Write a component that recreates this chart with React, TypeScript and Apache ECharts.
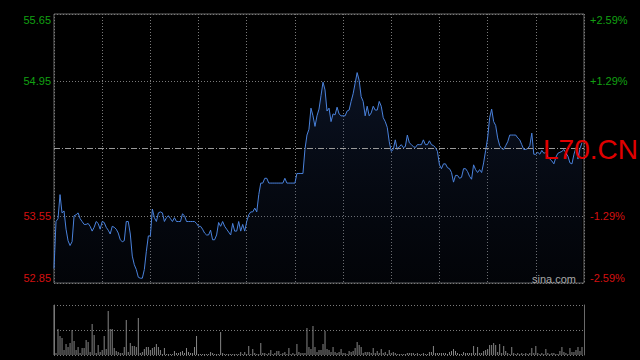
import React, { useEffect, useRef } from "react";
import * as echarts from "echarts";

// ---- data ----
const PREV_CLOSE = 54.25;
const AXIS_MIN = 52.85;
const AXIS_MAX = 55.65;
const AXIS_STEP = 0.7;
const LEFT_LABELS = ["52.85", "53.55", "", "54.95", "55.65"];
const RIGHT_LABELS = ["-2.59%", "-1.29%", "", "+1.29%", "+2.59%"];
const SLOTS = 264; // minute slots across the day
const SLOT_STEP = 24; // vertical grid every 24 slots

const PRICES = [
  53.00, 53.49, 53.52, 53.77, 53.58, 53.60, 53.41, 53.29, 53.24, 53.28, 53.55, 53.56,
  53.58, 53.52, 53.49, 53.46, 53.46, 53.47, 53.44, 53.39, 53.43, 53.49, 53.47, 53.41,
  53.49, 53.48, 53.43, 53.40, 53.36, 53.44, 53.43, 53.41, 53.37, 53.30, 53.28, 53.29,
  53.49, 53.49, 53.36, 53.13, 53.04, 52.99, 52.91, 52.90, 52.90, 52.99, 53.18, 53.34,
  53.34, 53.62, 53.53, 53.49, 53.58, 53.59, 53.58, 53.49, 53.53, 53.55, 53.52, 53.49,
  53.53, 53.49, 53.49, 53.49, 53.57, 53.55, 53.49, 53.49, 53.49, 53.49, 53.49, 53.47,
  53.44, 53.44, 53.41, 53.37, 53.35, 53.35, 53.40, 53.30, 53.30, 53.35, 53.48, 53.44,
  53.49, 53.44, 53.41, 53.38, 53.35, 53.47, 53.39, 53.39, 53.49, 53.39, 53.46, 53.39,
  53.49, 53.56, 53.59, 53.59, 53.63, 53.59, 53.77, 53.89, 53.89, 53.94, 53.94, 53.89,
  53.89, 53.89, 53.89, 53.89, 53.89, 53.89, 53.89, 53.94, 53.89, 53.89, 53.89, 53.89,
  53.89, 53.99, 53.99, 53.99, 53.99, 54.24, 54.39, 54.45, 54.67, 54.59, 54.48, 54.59,
  54.66, 54.80, 54.94, 54.86, 54.64, 54.67, 54.53, 54.61, 54.60, 54.68, 54.61, 54.59,
  54.59, 54.59, 54.64, 54.65, 54.74, 54.82, 54.93, 55.04, 54.96, 54.79, 54.74, 54.59,
  54.69, 54.59, 54.62, 54.69, 54.65, 54.65, 54.74, 54.69, 54.57, 54.53, 54.47, 54.32,
  54.22, 54.24, 54.34, 54.24, 54.27, 54.29, 54.26, 54.27, 54.39, 54.31, 54.29, 54.27,
  54.26, 54.29, 54.29, 54.29, 54.34, 54.29, 54.29, 54.33, 54.29, 54.28, 54.26, 54.22,
  54.08, 54.04, 54.09, 54.09, 54.05, 54.04, 54.00, 53.90, 53.97, 53.97, 53.94, 53.95,
  54.04, 54.04, 54.01, 53.96, 53.93, 54.08, 54.03, 54.00, 54.03, 54.00, 54.10, 54.23,
  54.36, 54.57, 54.66, 54.53, 54.49, 54.36, 54.28, 54.25, 54.24, 54.28, 54.32, 54.39,
  54.39, 54.39, 54.39, 54.36, 54.34, 54.29, 54.24, 54.24, 54.25, 54.28, 54.41, 54.19,
  54.19, 54.21, 54.19, 54.23, 54.20, 54.21, 54.16, 54.14, 54.12, 54.09, 54.16, 54.20,
  54.21, 54.22, 54.24, 54.20, 54.17, 54.10, 54.09, 54.19, 54.26, 54.14, 54.25, 54.31,
];

const VOLUMES = [
  50, 2, 26, 19, 17, 5, 11, 8, 12, 25, 14, 5,
  8, 2, 7, 7, 15, 13, 3, 31, 20, 2, 10, 3,
  5, 19, 6, 44, 26, 26, 7, 4, 3, 2, 2, 8,
  35, 3, 12, 9, 9, 8, 37, 2, 3, 6, 8, 8,
  5, 7, 8, 11, 8, 5, 1, 7, 1, 1, 1, 1,
  4, 2, 2, 3, 4, 2, 7, 3, 2, 2, 8, 19,
  1, 1, 1, 1, 1, 1, 3, 2, 1, 1, 1, 23,
  2, 1, 1, 1, 1, 1, 1, 1, 1, 3, 1, 3,
  1, 9, 1, 6, 2, 1, 1, 12, 2, 2, 1, 2,
  5, 1, 2, 4, 4, 1, 2, 3, 1, 7, 1, 2,
  1, 11, 3, 2, 2, 2, 27, 8, 6, 29, 8, 3,
  5, 5, 11, 24, 6, 5, 3, 8, 3, 2, 3, 6,
  2, 2, 1, 4, 3, 4, 7, 13, 10, 8, 2, 3,
  3, 3, 2, 7, 2, 4, 2, 6, 2, 3, 1, 5,
  2, 3, 2, 1, 1, 1, 1, 1, 2, 2, 2, 2,
  1, 2, 1, 1, 2, 1, 1, 3, 3, 9, 2, 2,
  2, 2, 2, 2, 1, 3, 4, 6, 4, 2, 1, 1,
  3, 2, 2, 2, 2, 9, 2, 8, 2, 2, 4, 5,
  6, 10, 10, 12, 10, 3, 11, 2, 9, 4, 2, 1,
  8, 2, 1, 2, 1, 2, 1, 2, 1, 2, 7, 2,
  9, 2, 1, 2, 1, 6, 2, 1, 2, 2, 1, 1,
  4, 8, 3, 2, 1, 7, 3, 3, 5, 8, 4, 8,
];

const TICKER = "L70.CN";
const SOURCE = "sina.com";

const FONT = "'Liberation Sans', Arial, sans-serif";
const GREEN = "#12a012";
const RED = "#d41010";

export default function App() {
  const ref = useRef<HTMLDivElement>(null);

  useEffect(() => {
    document.body.style.margin = "0";
    document.body.style.background = "#000";
    if (!ref.current) return;
    const chart = echarts.init(ref.current, undefined, { renderer: "svg" });

    const priceData = PRICES.map((p, i) => [i, +(p - AXIS_MIN).toFixed(4)]);
    const volData = VOLUMES.map((v, i) => [i, v]);
    const span = +(AXIS_MAX - AXIS_MIN).toFixed(4);

    const labelColor = (_v: any, i: number) => (i >= 3 ? GREEN : RED);

    chart.setOption({
      animation: false,
      backgroundColor: "#000",
      grid: [
        {
          left: 54,
          top: 14,
          width: 530,
          height: 269,
          show: true,
          borderColor: "#6a6a6a",
          borderWidth: 1,
          backgroundColor: "transparent",
        },
        { left: 54, top: 305, width: 530, height: 50, show: false },
      ],
      xAxis: [
        {
          type: "value",
          gridIndex: 0,
          min: 0,
          max: SLOTS,
          interval: SLOT_STEP,
          axisLine: { show: false },
          axisTick: { show: false },
          axisLabel: { show: false },
          splitLine: {
            show: true,
            lineStyle: { color: "#7a7a7a", type: [1, 2], width: 1 },
          },
        },
        {
          type: "value",
          gridIndex: 1,
          min: 0,
          max: SLOTS,
          axisLine: { show: false },
          axisTick: { show: false },
          axisLabel: { show: false },
          splitLine: { show: false },
        },
      ],
      yAxis: [
        {
          type: "value",
          gridIndex: 0,
          position: "left",
          min: 0,
          max: span,
          interval: AXIS_STEP,
          axisLine: { show: false },
          axisTick: { show: false },
          axisLabel: {
            margin: 3,
            fontSize: 11,
            fontFamily: FONT,
            formatter: (_v: number, i: number) => LEFT_LABELS[i] ?? "",
            color: labelColor,
            verticalAlignMaxLabel: "top",
            verticalAlignMinLabel: "bottom",
          },
          splitLine: {
            show: true,
            lineStyle: {
              color: ["#7a7a7a", "#7a7a7a", "transparent", "#7a7a7a", "#7a7a7a"],
              type: [1, 2],
              width: 1,
            },
          },
        },
        {
          type: "value",
          gridIndex: 0,
          position: "right",
          min: 0,
          max: span,
          interval: AXIS_STEP,
          axisLine: { show: false },
          axisTick: { show: false },
          axisLabel: {
            margin: 6,
            fontSize: 11,
            fontFamily: FONT,
            formatter: (_v: number, i: number) => RIGHT_LABELS[i] ?? "",
            color: labelColor,
            verticalAlignMaxLabel: "top",
            verticalAlignMinLabel: "bottom",
          },
          splitLine: { show: false },
        },
        {
          type: "value",
          gridIndex: 1,
          position: "left",
          min: 0,
          max: 50,
          interval: 25,
          axisLine: { show: true, lineStyle: { color: "#6a6a6a", width: 1 } },
          axisTick: { show: false },
          axisLabel: { show: false },
          splitLine: {
            show: true,
            lineStyle: { color: "#7a7a7a", type: [1, 2], width: 1 },
          },
        },
        {
          type: "value",
          gridIndex: 1,
          position: "right",
          min: 0,
          max: 50,
          axisLine: { show: true, lineStyle: { color: "#6a6a6a", width: 1 } },
          axisTick: { show: false },
          axisLabel: { show: false },
          splitLine: { show: false },
        },
      ],
      series: [
        {
          type: "line",
          xAxisIndex: 0,
          yAxisIndex: 0,
          data: priceData,
          showSymbol: false,
          symbol: "none",
          lineStyle: { color: "#4a82dc", width: 1 },
          areaStyle: {
            color: new echarts.graphic.LinearGradient(0, 0, 0, 1, [
              { offset: 0, color: "rgba(36,62,118,0.42)" },
              { offset: 1, color: "rgba(18,32,64,0.18)" },
            ]),
          },
          markLine: {
            silent: true,
            symbol: "none",
            label: { show: false },
            emphasis: { disabled: true },
            lineStyle: { color: "#9a9a9a", type: [6, 2, 1, 2], width: 1 },
            data: [{ yAxis: +(PREV_CLOSE - AXIS_MIN).toFixed(4) }],
          },
          z: 3,
        },
        {
          type: "bar",
          xAxisIndex: 1,
          yAxisIndex: 2,
          data: volData,
          barWidth: 1,
          itemStyle: { color: "#858585" },
        },
      ],
      graphic: [
        {
          type: "text",
          left: 543,
          top: 135,
          z: 100,
          style: {
            text: TICKER,
            fill: "#e00000",
            fontSize: 28,
            fontFamily: FONT,
          },
        },
        {
          type: "text",
          left: 532,
          top: 273,
          z: 100,
          style: {
            text: SOURCE,
            fill: "#a8a8a8",
            fontSize: 11,
            fontFamily: FONT,
          },
        },
      ],
    });

    return () => chart.dispose();
  }, []);

  return <div ref={ref} style={{ width: 640, height: 360, background: "#000" }} />;
}
